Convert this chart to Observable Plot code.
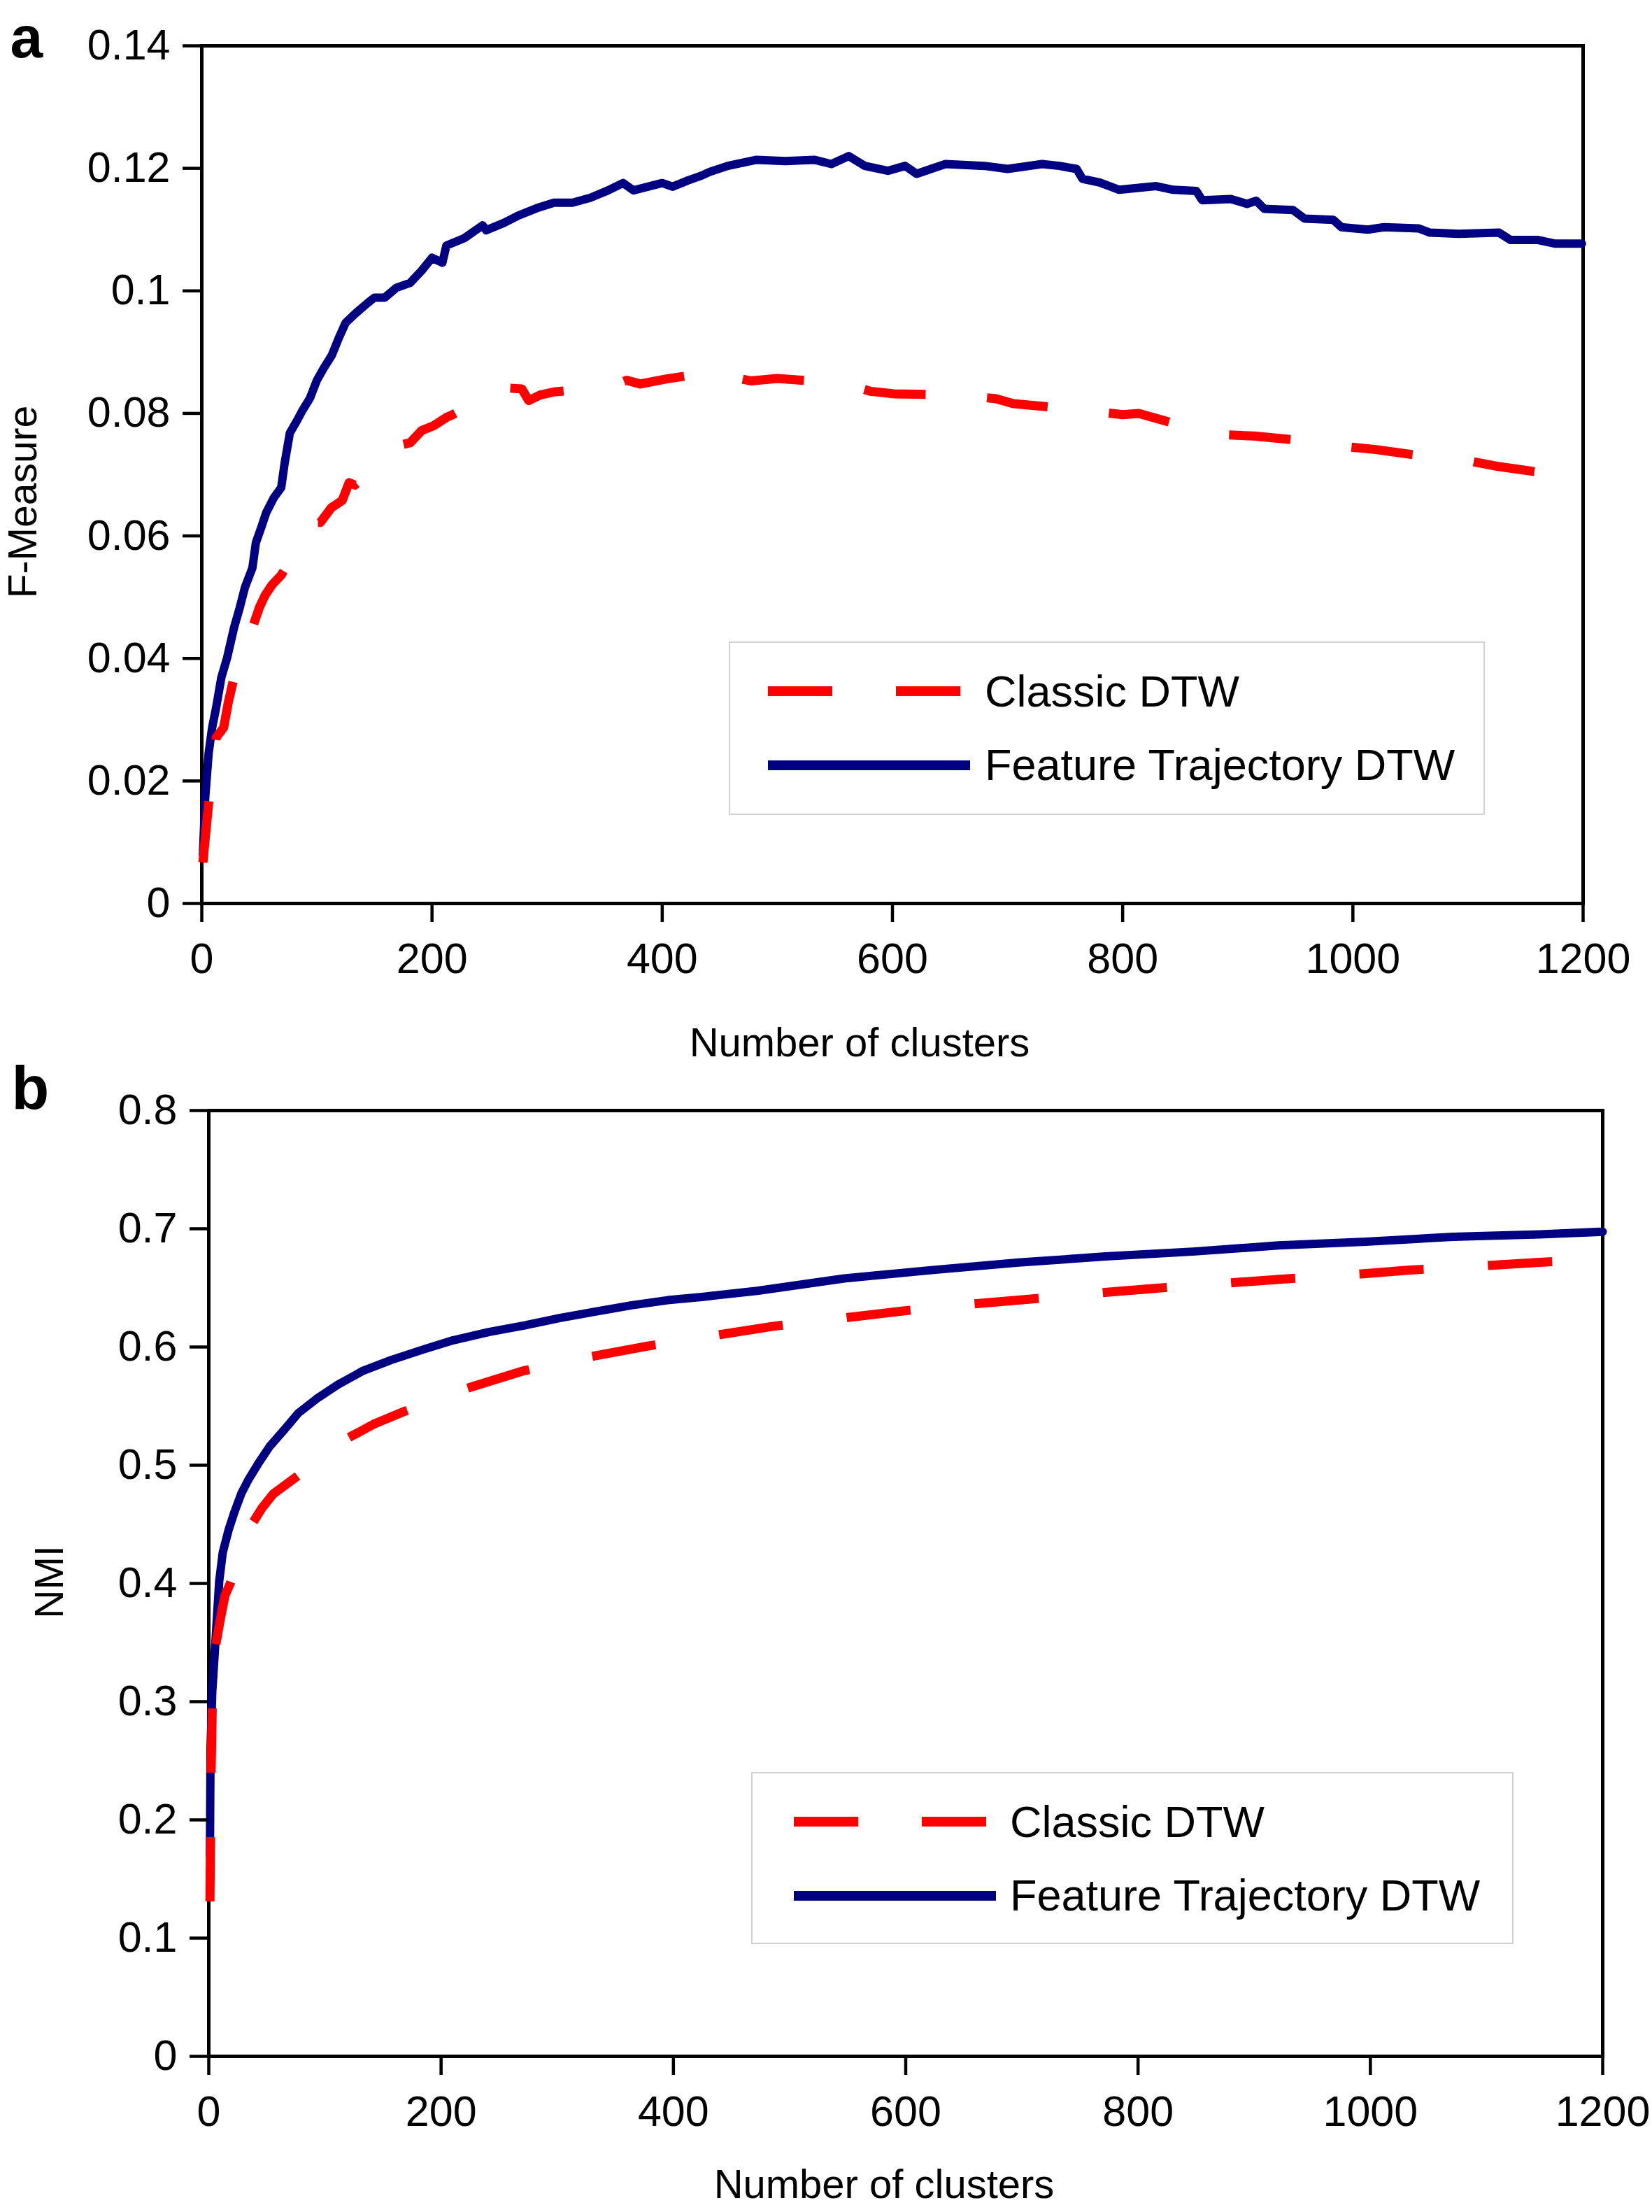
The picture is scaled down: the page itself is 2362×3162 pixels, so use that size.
<!DOCTYPE html>
<html>
<head>
<meta charset="utf-8">
<script src="https://cdn.jsdelivr.net/npm/d3@7"></script>
<script src="https://cdn.jsdelivr.net/npm/@observablehq/plot@0.6"></script>
<style>
  html, body { margin: 0; padding: 0; background: #ffffff; }
  #page { position: relative; width: 2362px; height: 3162px; background: #ffffff; overflow: hidden; }
  .panel { position: absolute; left: 0; }
  .legend { position: absolute; }
</style>
</head>
<body>
<div id="page">
  <div id="panelA" class="panel" style="top:0px"></div>
  <div id="panelB" class="panel" style="top:1540px"></div>
</div>
<script>
// ---------- data ----------
const seriesNames = ["Classic DTW", "Feature Trajectory DTW"];
const seriesColors = ["#ff0000", "#000080"];
const xTicks = [0, 200, 400, 600, 800, 1000, 1200];
const yTicksA = [0, 0.02, 0.04, 0.06, 0.08, 0.10, 0.12, 0.14];
const yTicksB = [0, 0.1, 0.2, 0.3, 0.4, 0.5, 0.6, 0.7, 0.8];
const xLabel = "Number of clusters";
const yLabelA = "F-Measure";
const yLabelB = "NMI";

// Panel a: F-Measure, [clusters, value]
const fmeasureFeature = [
  [1,0.008],[3,0.0173],[6,0.0246],[9,0.0287],[12.5,0.032],[17,0.0369],[22,0.0401],[28,0.045],
  [33,0.0483],[37.5,0.0516],[44,0.0548],[47,0.0589],[51.5,0.0613],[56,0.0638],[62.5,0.0662],
  [69,0.0679],[72,0.0719],[76.5,0.0768],[83,0.0789],[87.5,0.0805],[94,0.0825],[100,0.0854],
  [106,0.0874],[113,0.0895],[119,0.0923],[125,0.0948],[134,0.0964],[144,0.098],[150,0.0989],
  [159,0.0989],[169,0.1005],[181,0.1013],[191,0.1033],[200,0.1054],[209,0.1046],[212.5,0.1074],
  [228,0.1086],[244,0.1107],[247,0.1099],[262.5,0.1111],[275,0.1123],[291,0.1135],[306,0.1144],
  [322,0.1144],[337.5,0.1152],[353,0.1164],[366,0.1176],[375,0.1164],[387.5,0.117],[400,0.1176],
  [409,0.117],[422,0.118],[434,0.1188],[441,0.1194],[457,0.1204],[482,0.1214],[507,0.1212],
  [532,0.1214],[547,0.1207],[562,0.122],[576,0.1204],[596,0.1196],[611,0.1204],[621,0.1191],
  [646,0.1207],[680,0.1204],[700,0.1199],[730,0.1207],[745,0.1204],[760,0.1199],[765,0.1183],
  [780,0.1177],[797,0.1165],[829,0.1171],[844,0.1165],[864,0.1163],[869,0.1148],[894,0.115],
  [908,0.1142],[916,0.1147],[923,0.1134],[948,0.1132],[958,0.1118],[983,0.1116],[990,0.1104],
  [1013,0.11],[1027,0.1104],[1057,0.1102],[1067,0.1095],[1092,0.1093],[1127,0.1095],
  [1137,0.1083],[1161,0.1083],[1176,0.1077],[1199,0.1077]
];
const fmeasureClassic = [
  [1,0.0067],[6,0.0165],[12.5,0.0271],[19,0.0287],[23,0.0328],[28,0.0369],[44,0.045],
  [50,0.0483],[55,0.0503],[61,0.052],[69,0.0536],[97,0.0622],[103,0.0622],[112.5,0.0646],
  [122,0.0658],[128,0.0687],[133,0.0683],[172,0.0748],[181,0.0752],[191,0.0772],[201.5,0.078],
  [213,0.0794],[217,0.0797],[261,0.0842],[278,0.084],[284,0.0821],[294,0.083],[306,0.0835],
  [353,0.0843],[369,0.0854],[381,0.0848],[403,0.0856],[455,0.0871],[467,0.0857],[477,0.0853],
  [500,0.0857],[557,0.0849],[581,0.0836],[601,0.0832],[658,0.083],[690,0.0824],[705,0.0816],
  [762,0.0806],[800,0.0798],[814,0.08],[864,0.0773],[889,0.0765],[914,0.0763],[970,0.0753],
  [998,0.0745],[1020,0.0741],[1077,0.0726],[1102,0.0722],[1124,0.0714],[1184,0.0698],[1199,0.0702]
];

// Panel b: NMI, [clusters, value]
const nmiFeature = [
  [1,0.17],[1.5,0.26],[3,0.308],[6,0.355],[9,0.402],[12,0.426],[17,0.445],[21.6,0.459],
  [28,0.476],[34,0.4875],[43,0.502],[52.5,0.516],[65,0.53],[77,0.544],[92.6,0.556],[111,0.568],
  [133,0.58],[157,0.589],[185,0.598],[210,0.6056],[241,0.6127],[272,0.6183],[302,0.6245],
  [333,0.63],[364,0.6353],[395,0.6396],[426,0.6425],[472,0.6475],[547,0.658],[622,0.665],
  [697,0.6714],[772,0.6766],[847,0.6807],[921,0.6859],[996,0.689],[1071,0.6932],[1146,0.6953],
  [1200,0.6975]
];
const nmiClassic = [
  [1,0.131],[2,0.24],[3,0.295],[6,0.348],[10,0.37],[14,0.39],[18.5,0.40],[37,0.45],[46,0.464],
  [55.5,0.4757],[72.5,0.488],[117,0.5215],[142,0.5347],[167,0.545],[219,0.564],[270,0.5796],
  [326,0.5914],[378,0.6008],[433,0.6094],[485,0.6174],[548,0.6247],[595,0.6302],[652,0.636],
  [704,0.6402],[762,0.6454],[814,0.6496],[872,0.6537],[924,0.6574],[981,0.661],[1034,0.6651],
  [1091,0.6683],[1143,0.6714],[1200,0.6745]
];

// ---------- drawing ----------
const FONT = "'Liberation Sans', Arial, Helvetica, sans-serif";
const fmt = d => String(+d.toFixed(4));

function panel({width, height, mt, mb, ml, mr, yDomain, yTicks, feature, classic,
                yLabel, yLabelDx, yLabelDy, xLabelDx, xLabelDy, letter, letterDx, letterDy, letterSize, dash}) {
  return Plot.plot({
    width, height,
    marginTop: mt, marginBottom: mb, marginLeft: ml, marginRight: mr,
    x: {domain: [0, 1200], nice: false},
    y: {domain: yDomain, nice: false},
    style: {fontFamily: FONT, fontSize: "61px", background: "white", color: "black", overflow: "visible"},
    marks: [
      Plot.frame({stroke: "black", strokeWidth: 5}),
      Plot.line(feature, {x: d => d[0], y: d => d[1], stroke: seriesColors[1], strokeWidth: 12,
        strokeLinejoin: "round", strokeLinecap: "round"}),
      Plot.line(classic, {x: d => d[0], y: d => d[1], stroke: seriesColors[0], strokeWidth: 13,
        strokeDasharray: dash, strokeLinecap: "butt", strokeLinejoin: "round"}),
      Plot.axisX({ticks: xTicks, tickSize: 27, tickPadding: 29, tickFormat: d => String(d),
        strokeWidth: 4.5, fontSize: 61, label: null}),
      Plot.axisY({ticks: yTicks, tickSize: 27, tickPadding: 18, tickFormat: fmt,
        strokeWidth: 4.5, fontSize: 61, label: null}),
      Plot.text([xLabel], {text: d => d, frameAnchor: "bottom", dx: xLabelDx, dy: xLabelDy,
        fontSize: 58, lineAnchor: "middle", textAnchor: "middle"}),
      Plot.text([yLabel], {text: d => d, frameAnchor: "left", dx: yLabelDx, dy: yLabelDy,
        rotate: -90, fontSize: 57, lineAnchor: "middle", textAnchor: "middle"}),
      Plot.text([letter], {text: d => d, frameAnchor: "top-left", dx: letterDx, dy: letterDy,
        fontSize: letterSize, fontWeight: "bold", lineAnchor: "middle", textAnchor: "start"})
    ]
  });
}

const plotA = panel({
  width: 2362, height: 1540, mt: 65, mb: 249, ml: 288, mr: 99,
  yDomain: [0, 0.14], yTicks: yTicksA, feature: fmeasureFeature, classic: fmeasureClassic,
  yLabel: yLabelA, yLabelDx: -255, yLabelDy: 39, xLabelDx: -47, xLabelDy: 200,
  letter: "a", letterDx: -274, letterDy: -10, letterSize: 84, dash: "88,88"
});
document.getElementById("panelA").appendChild(plotA);

const plotB = panel({
  width: 2362, height: 1622, mt: 47, mb: 223, ml: 298, mr: 71,
  yDomain: [0, 0.8], yTicks: yTicksB, feature: nmiFeature, classic: nmiClassic,
  yLabel: yLabelB, yLabelDx: -227, yLabelDy: -2, xLabelDx: -31, xLabelDy: 184,
  letter: "b", letterDx: -282, letterDy: -31, letterSize: 88, dash: "92,92"
});
document.getElementById("panelB").appendChild(plotB);

// ---------- legends (overlaid inside the plot frames) ----------
function legend(left, top, w, h, sampleStart, textX) {
  const svg = d3.select("#page").append("svg")
    .attr("class", "legend")
    .attr("width", w + 4).attr("height", h + 4)
    .style("left", (left - 2) + "px").style("top", (top - 2) + "px");
  const g = svg.append("g").attr("transform", "translate(2,2)");
  g.append("rect").attr("x", 0).attr("y", 0).attr("width", w).attr("height", h)
    .attr("fill", "white").attr("stroke", "#d2d2d2").attr("stroke-width", 2);
  const rows = [
    {name: seriesNames[0], color: seriesColors[0], dash: "92,91", y: 70, base: 92, x2: sampleStart + 275},
    {name: seriesNames[1], color: seriesColors[1], dash: null, y: 176, base: 197, x2: sampleStart + 289}
  ];
  rows.forEach(r => {
    const ln = g.append("line").attr("x1", sampleStart).attr("x2", r.x2)
      .attr("y1", r.y).attr("y2", r.y)
      .attr("stroke", r.color).attr("stroke-width", 14).attr("stroke-linecap", "butt");
    if (r.dash) ln.attr("stroke-dasharray", r.dash);
    g.append("text").attr("x", textX).attr("y", r.base)
      .attr("font-family", FONT).attr("font-size", 63).attr("fill", "black")
      .text(r.name);
  });
}
legend(1043, 918, 1079, 246, 55, 365);
legend(1075, 2534, 1088, 244, 60, 369);
</script>
</body>
</html>
